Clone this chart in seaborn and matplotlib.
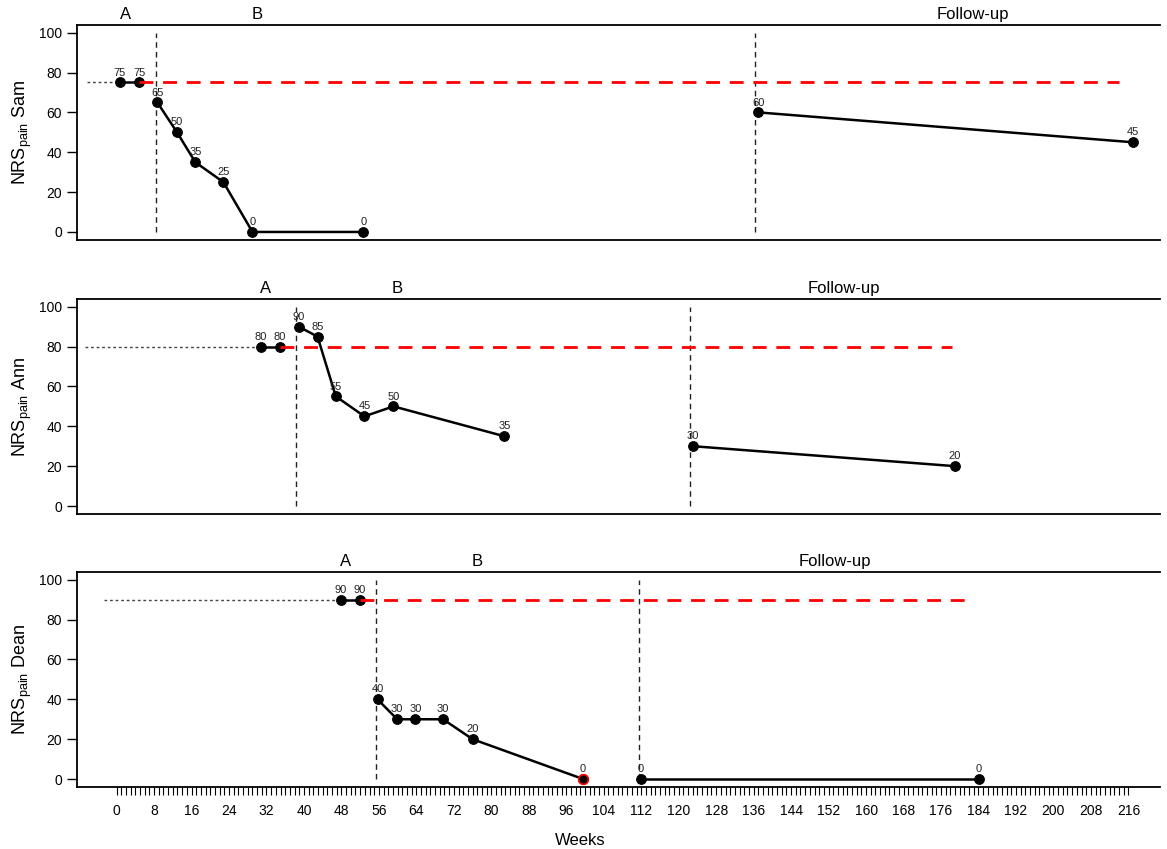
import numpy as np
import pandas as pd
import matplotlib.pyplot as plt
from matplotlib.ticker import FixedLocator, NullFormatter
import seaborn as sns

sns.set_style("white")
plt.rcParams['font.family'] = ['Liberation Sans', 'DejaVu Sans']
plt.rcParams['mathtext.fontset'] = 'custom'
plt.rcParams['mathtext.rm'] = 'Liberation Sans'
plt.rcParams['mathtext.it'] = 'Liberation Sans'
for k in ['text.color', 'axes.labelcolor', 'xtick.color', 'ytick.color']:
    plt.rcParams[k] = 'black'

# 1. DATOS (semanas y NRS pain por paciente)
patients = ['Sam', 'Ann', 'Dean']

sam_weeks = [0.7, 4.8, 8.7, 12.9, 16.8, 22.8, 29.0, 52.7, 137.0, 217.0]
sam_nrs = [75, 75, 65, 50, 35, 25, 0, 0, 60, 45]
sam_phase = ['A', 'A', 'B', 'B', 'B', 'B', 'B', 'B', 'FU', 'FU']

ann_weeks = [30.8, 34.9, 38.9, 42.9, 46.8, 52.9, 59.1, 82.8, 123.1, 179.0]
ann_nrs = [80, 80, 90, 85, 55, 45, 50, 35, 30, 20]
ann_phase = ['A', 'A', 'B', 'B', 'B', 'B', 'B', 'B', 'FU', 'FU']

dean_weeks = [47.8, 51.9, 55.7, 59.9, 63.8, 69.7, 76.0, 99.6, 111.9, 184.1]
dean_nrs = [90, 90, 40, 30, 30, 30, 20, 0, 0, 0]
dean_phase = ['A', 'A', 'B', 'B', 'B', 'B', 'B', 'B', 'FU', 'FU']

# cambios de fase (A->B, B->Follow-up)
phase_cuts = [[8.4, 136.3], [38.4, 122.4], [55.3, 111.5]]
# linea base: inicio linea punteada gris y fin de la roja
baseline_from = [-6.3, -6.8, -2.7]
baseline_to = [214.0, 178.4, 181.6]
# posiciones de las etiquetas de fase
phase_names = ['A', 'B', 'Follow-up']
phase_label_x = [[1.8, 30.0, 182.7], [31.9, 60.0, 155.3], [48.9, 76.9, 153.4]]
# punto marcado en rojo (Dean, semana ~100)
red_points = [[], [], [7]]

series = [(sam_weeks, sam_nrs, sam_phase),
          (ann_weeks, ann_nrs, ann_phase),
          (dean_weeks, dean_nrs, dean_phase)]

# 2. FIGURA
fig = plt.figure(figsize=(11.67, 8.49), dpi=100)
left, width = 0.0662, 0.928
bottoms = [0.7174, 0.3946, 0.073]
height = 0.2535

for i, (name, (wk, nrs, ph)) in enumerate(zip(patients, series)):
    ax = fig.add_axes([left, bottoms[i], width, height])
    df = pd.DataFrame({'week': wk, 'nrs': nrs, 'phase': ph})

    sns.lineplot(data=df, x='week', y='nrs', units='phase', estimator=None,
                 color='black', lw=1.8, marker='o', markersize=7,
                 markeredgecolor='black', ax=ax, zorder=3)

    for j in red_points[i]:
        ax.plot(wk[j], nrs[j], 'o', ms=7, mfc='black', mec='red', mew=1.2, zorder=4)

    base = np.mean(nrs[:2])
    ax.plot([baseline_from[i], wk[0]], [base, base], color='#444444',
            lw=1, ls=(0, (2, 2)), zorder=2)
    ax.plot([wk[1], baseline_to[i]], [base, base], color='red',
            lw=2, ls=(0, (5, 3.5)), zorder=5)

    for c in phase_cuts[i]:
        ax.plot([c, c], [0, 100], color='#222222', lw=1, ls=(0, (4, 3)), zorder=1)

    for x, y in zip(wk, nrs):
        ax.annotate(str(y), (x, y), xytext=(0, 3.5), textcoords='offset points',
                    ha='center', va='bottom', fontsize=8, color='#222222', zorder=6)

    for lab, x in zip(phase_names, phase_label_x[i]):
        ax.text(x, 1.012, lab, transform=ax.get_xaxis_transform(),
                ha='center', va='bottom', fontsize=12)

    ax.set_xlim(-8.4, 222.8)
    ax.set_ylim(-4, 104)
    ax.set_yticks([0, 20, 40, 60, 80, 100])
    ax.tick_params(axis='y', direction='out', length=7, width=1, labelsize=10,
                   left=True, pad=4)
    ax.set_ylabel(r'NRS$_{\mathrm{pain}}$ ' + name, fontsize=13)
    ax.yaxis.set_label_coords(-0.040, 0.5)

    for s in ['left', 'top', 'bottom']:
        ax.spines[s].set_visible(True)
        ax.spines[s].set_color('black')
        ax.spines[s].set_linewidth(1.3)
    ax.spines['right'].set_visible(False)

    if i < 2:
        ax.set_xticks([])
        ax.set_xlabel('')
    else:
        ax.xaxis.set_major_locator(FixedLocator(np.arange(0, 217, 8)))
        ax.xaxis.set_minor_locator(FixedLocator(np.arange(0, 217, 1)))
        ax.xaxis.set_minor_formatter(NullFormatter())
        ax.tick_params(axis='x', which='both', direction='out', length=6,
                       width=0.8, bottom=True)
        ax.tick_params(axis='x', which='major', labelsize=10, pad=6)
        ax.set_xlabel('Weeks', fontsize=12)
        ax.xaxis.set_label_coords(0.464, -0.215)

fig.savefig('out.png', dpi=100)
